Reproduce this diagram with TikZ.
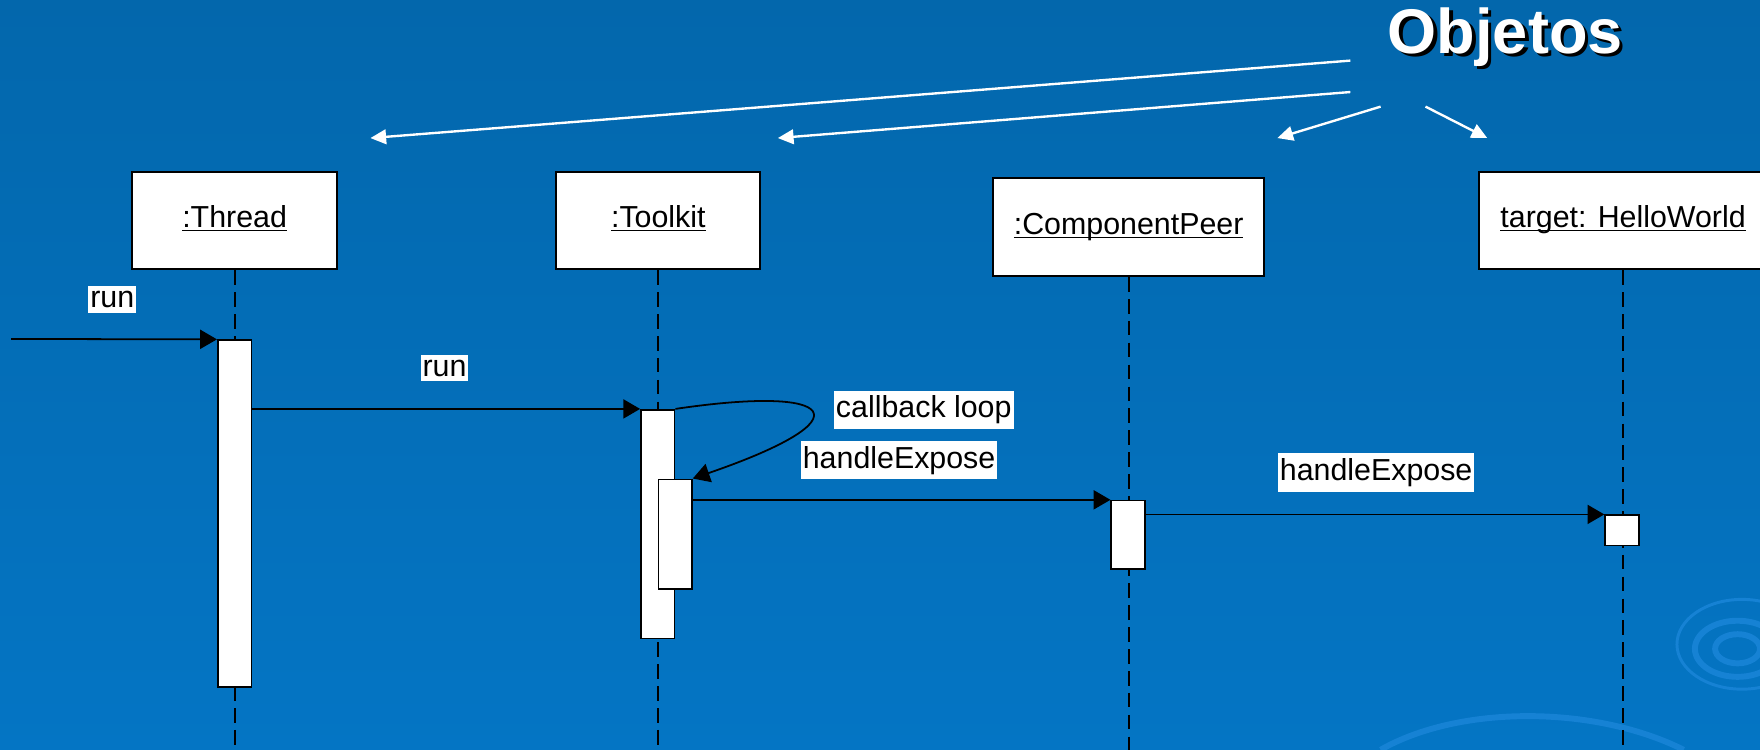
\documentclass[tikz,border=0pt]{standalone}
\usepackage{fontspec}
\setmainfont{Liberation Sans}
\usetikzlibrary{arrows.meta}

\definecolor{slidetop}{RGB}{3,103,172}
\definecolor{slidebot}{RGB}{4,117,196}
\definecolor{ripple}{RGB}{22,130,212}

\newcommand{\objname}[1]{\underline{\smash{#1}}\vphantom{Tp}}

\tikzset{
  obj/.style={draw, fill=white, line width=1pt, minimum height=1.74cm,
    font=\fontsize{15.4}{18}\selectfont},
  bar/.style={draw, fill=white, line width=0.8pt, minimum width=0.6cm, inner sep=0pt},
  lifeline/.style={line width=1.1pt, dash pattern=on 0.26cm off 0.13cm},
  msg/.style={line width=0.9pt, -{Triangle[length=0.3cm,width=0.34cm]}},
  lbl/.style={fill=white, inner xsep=1pt, inner ysep=2.5pt,
    font=\fontsize{15.4}{18}\selectfont},
  hint/.style={white, line width=1.2pt, -{Triangle[length=0.28cm,width=0.26cm]}}
}

\begin{document}
\begin{tikzpicture}[x=0.02cm, y=-0.02cm]
  \useasboundingbox (0,0) rectangle (1568,668);
  \shade[top color=slidetop, bottom color=slidebot] (0,0) rectangle (1568,668);

  % ripples in the corner
  \begin{scope}
    \clip (0,0) rectangle (1568,668);
    \draw[ripple, line width=3pt] (1548,578) ellipse (20 and 13);
    \draw[ripple, line width=3pt] (1548,578) ellipse (38 and 25);
    \draw[ripple, line width=1.5pt] (1552,574) ellipse (58 and 40);
    \draw[ripple, line width=3pt] (1230,668) .. controls (1300,628) and (1420,628) .. (1500,668);
  \end{scope}

  % title
  \node[font=\fontsize{32}{36}\bfseries, text=black] (objShadow) at (1344,36) {Objetos};
  \node[font=\fontsize{32}{36}\bfseries, text=white] (objetos) at (1341,33) {Objetos};

  \coordinate (hintA) at (1203,54);
  \coordinate (hintB) at (1203,82);
  \coordinate (hintC) at (1230,95);
  \coordinate (hintD) at (1270,95);
  \coordinate (tipA) at (330,123);
  \coordinate (tipB) at (693,123);
  \coordinate (tipC) at (1138,123);
  \coordinate (tipD) at (1325,123);
  \draw[hint] (hintA) -- (tipA);
  \draw[hint] (hintB) -- (tipB);
  \draw[hint] (hintC) -- (tipC);
  \draw[hint] (hintD) -- (tipD);

  % objects
  \node[obj, minimum width=3.64cm] (thread) at (209,196.5) {\objname{:Thread}};
  \node[obj, minimum width=3.64cm] (toolkit) at (586.5,196.5) {\objname{:Toolkit}};
  \node[obj, minimum width=4.82cm] (peer) at (1005.5,202.5) {\objname{:ComponentPeer}};
  \node[obj, minimum width=5.14cm] (hello) at (1446,196.5) {\objname{target: HelloWorld}};

  % lifelines
  \draw[lifeline] (thread.south) -- (thread.south |- 0,668);
  \draw[lifeline] (toolkit.south) -- (toolkit.south |- 0,668);
  \draw[lifeline] (peer.south) -- (peer.south |- 0,668);
  \draw[lifeline] (hello.south) -- (hello.south |- 0,668);

  % activations
  \node[bar, minimum height=6.18cm] (actThread) at (209,457.5) {};
  \node[bar, minimum height=4.08cm] (actToolkit) at (586,467) {};
  \node[bar, minimum height=1.96cm] (actInner) at (601.5,476) {};
  \node[bar, minimum height=1.22cm] (actPeer) at (1005,476.5) {};
  \node[bar, minimum height=0.54cm] (actHello) at (1445,472.5) {};

  % messages
  \coordinate (caller) at (10,302);
  \draw[msg] (caller) -- (actThread.north west);
  \draw[msg] (actThread.east |- actToolkit.north) -- (actToolkit.north west);
  \draw[msg] (actToolkit.north east) .. controls (745,343) and (775,372) .. (actInner.north east);
  \draw[msg] (actInner.east |- actPeer.north) -- (actPeer.north west);
  \draw[msg] (actPeer.east |- actHello.north) -- (actHello.north west);

  \node[lbl] (runA) at (100,267) {run};
  \node[lbl] (runB) at (396,328) {run};
  \node[lbl] (loop) at (823,365) {callback loop};
  \node[lbl] (exposeA) at (801,410) {handleExpose};
  \node[lbl] (exposeB) at (1226,421) {handleExpose};
\end{tikzpicture}
\end{document}
